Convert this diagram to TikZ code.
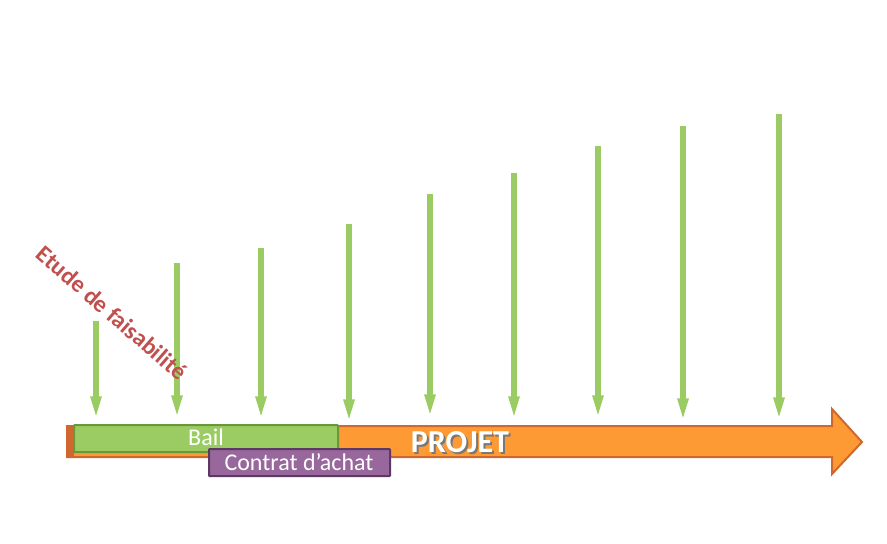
\documentclass[tikz,border=0pt]{standalone}
\usepackage{fontspec}
\setmainfont{Carlito}
\usetikzlibrary{arrows.meta}

\tikzset{every picture/.style={line width=0.75pt}}
\tikzset{
  jalon/.style={color={rgb, 255:red, 155; green, 204; blue, 100 }, line width=3.9pt, -{Triangle[length=17pt, width=7.5pt]}},
  barre/.style={line width=1.5pt, rounded corners=0.5pt},
}

\begin{document}
\begin{tikzpicture}[x=0.75pt,y=0.75pt,yscale=-1,xscale=1]

\useasboundingbox (0,0) rectangle (887,543);

%% ---------------- projet (orange) ----------------
\draw [color={rgb, 255:red, 207; green, 104; blue, 46 }, fill={rgb, 255:red, 253; green, 154; blue, 52 }, line width=1.5pt] (67,426) -- (832,426) -- (832,409) -- (862,442) -- (832,474) -- (832,457) -- (67,457) -- cycle ;
\fill [color={rgb, 255:red, 207; green, 104; blue, 46 }] (66,425) rectangle (74,458) ;

%% ---------------- jalons (green) ----------------
\draw [jalon] (96,321) -- (96,419) ;
\draw [jalon] (177,263) -- (177,418) ;
\draw [jalon] (261,248) -- (261,419) ;
\draw [jalon] (349,224) -- (349,422) ;
\draw [jalon] (430,194) -- (430,417) ;
\draw [jalon] (514,173) -- (514,419) ;
\draw [jalon] (598,146) -- (598,418) ;
\draw [jalon] (683,126) -- (683,421) ;
\draw [jalon] (779,114) -- (779,420) ;

%% ---------------- bail et contrat ----------------
\draw [barre, color={rgb, 255:red, 106; green, 152; blue, 56 }, fill={rgb, 255:red, 155; green, 204; blue, 100 }] (74,425) rectangle (338,452) ;
\draw [barre, color={rgb, 255:red, 94; green, 56; blue, 100 }, fill={rgb, 255:red, 152; green, 104; blue, 156 }] (209,449) rectangle (390,476) ;

%% ---------------- text ----------------
\draw (206,437) node [anchor=center, font=\fontsize{18}{21}\selectfont, text=white] (bail) {Bail};
\draw (299,462) node [anchor=center, font=\fontsize{18}{21}\selectfont, text=white] (contrat) {Contrat d’achat};
\draw (462,444) node [anchor=center, font=\fontsize{24}{29}\selectfont\bfseries, text={rgb, 255:red, 120; green, 120; blue, 120 }] (ombre) {PROJET};
\draw (460,442) node [anchor=center, font=\fontsize{24}{29}\selectfont\bfseries, text=white] (projet) {PROJET};
\draw (112,313) node [anchor=center, rotate=-41, font=\fontsize{18}{21}\selectfont\bfseries, text={rgb, 255:red, 192; green, 80; blue, 77 }] (etude) {Etude de faisabilité};

\end{tikzpicture}
\end{document}
